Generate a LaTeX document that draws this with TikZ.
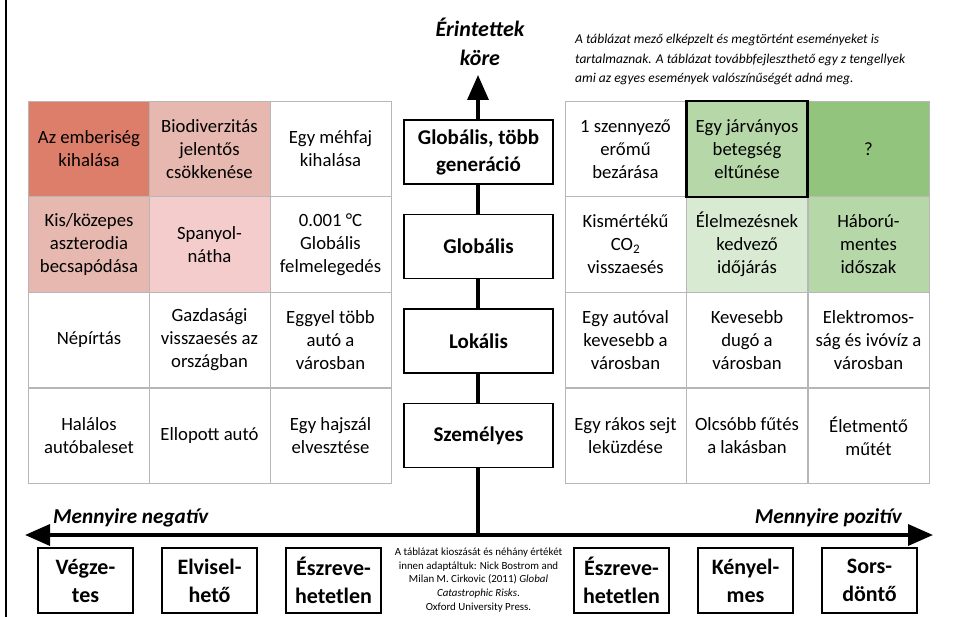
\documentclass[tikz,border=0pt]{standalone}
\usepackage{fontspec}
\setmainfont{Carlito}
\usetikzlibrary{positioning,arrows.meta}

\definecolor{redA}{HTML}{DD7E6B}
\definecolor{redB}{HTML}{E6B8AF}
\definecolor{redC}{HTML}{F4CCCC}
\definecolor{greenA}{HTML}{B6D7A8}
\definecolor{greenB}{HTML}{93C47D}
\definecolor{greenC}{HTML}{D9EAD3}
\definecolor{gridgray}{HTML}{B7B7B7}

\tikzset{
  cell/.style={draw=gridgray, line width=0.8pt, minimum width=121pt, minimum height=95.7pt,
    inner sep=0pt, align=center, font=\fontsize{18.7}{23}\selectfont},
  levelbox/.style={draw, line width=1.3pt, fill=white, minimum width=149pt, minimum height=64pt,
    inner sep=0pt, align=center, font=\fontsize{21}{27}\selectfont\bfseries},
  scalebox/.style={draw, line width=1.1pt, fill=white, minimum width=95pt, minimum height=65pt,
    inner sep=0pt, align=center, font=\fontsize{22}{28}\selectfont\bfseries},
  axislabel/.style={inner sep=0pt, font=\fontsize{21.2}{24}\selectfont\bfseries\itshape},
}

\begin{document}
\begin{tikzpicture}[x=1pt,y=-1pt]
\useasboundingbox (0,0) rectangle (955,617);
\draw[line width=2pt] (6,0) -- (6,617);

% axes
\coordinate (origin) at (478,535);
\coordinate (up) at (478,75);
\coordinate (neg) at (25,535);
\coordinate (pos) at (933,535);
\draw[line width=3.5pt, -{Triangle[length=25pt,width=21pt]}] (origin) -- (up);
\draw[line width=3.5pt, {Triangle[length=25pt,width=21pt]}-{Triangle[length=25pt,width=21pt]}] (neg) -- (pos);
\node[align=center, inner sep=0pt, font=\fontsize{22}{29}\selectfont\bfseries\itshape] (kore) at (480,42) {Érintettek\\köre};
\node[axislabel, anchor=base west] (negl) at (53,523) {Mennyire negatív};
\node[axislabel, anchor=base east] (posl) at (902,523) {Mennyire pozitív};

% levels
\foreach \y/\t/\n in {152/{Globális, több\\generáció}/glob2, 246.5/Globális/glob, 341/Lokális/lok, 435.5/Személyes/szem}
  \node[levelbox] (\n) at (478.5,\y) {\t};

% negative side
\node[cell, fill=redA] (n11) at (89,149) {Az emberiség\\kihalása};
\node[cell, fill=redB] (n12) at (209.5,149) {Biodiverzitás\\jelentős\\csökkenése};
\node[cell] (n13) at (330.5,149) {Egy méhfaj\\kihalása};
\node[cell, fill=redB] (n21) at (89,244.5) {Kis/közepes\\aszterodia\\becsapódása};
\node[cell, fill=redC] (n22) at (209.5,244.5) {Spanyol-\\nátha};
\node[cell] (n23) at (330.5,244.5) {0.001 °C\\Globális\\felmelegedés};
\node[cell] (n31) at (89,340) {Népírtás};
\node[cell] (n32) at (209.5,340) {Gazdasági\\visszaesés az\\országban};
\node[cell] (n33) at (330.5,340) {Eggyel több\\autó a\\városban};
\node[cell] (n41) at (89,436) {Halálos\\autóbaleset};
\node[cell] (n42) at (209.5,436) {Ellopott autó};
\node[cell] (n43) at (330.5,436) {Egy hajszál\\elvesztése};

% positive side
\node[cell] (p11) at (625.5,149) {1 szennyező\\erőmű\\bezárása};
\node[cell, fill=greenB] (p13) at (868.5,149) {?};
\node[cell] (p21) at (625.5,244.5) {Kismértékű\\CO\textsubscript{2}\\visszaesés};
\node[cell, fill=greenC] (p22) at (747,244.5) {Élelmezésnek\\kedvező\\időjárás};
\node[cell, fill=greenA] (p23) at (868.5,244.5) {Háború-\\mentes\\időszak};
\node[cell] (p31) at (625.5,340) {Egy autóval\\kevesebb a\\városban};
\node[cell] (p32) at (747,340) {Kevesebb\\dugó a\\városban};
\node[cell] (p33) at (868.5,340) {Elektromos-\\ság és ivóvíz a\\városban};
\node[cell] (p41) at (625.5,436) {Egy rákos sejt\\leküzdése};
\node[cell] (p42) at (747,436) {Olcsóbb fűtés\\a lakásban};
\node[cell] (p43) at (868.5,436) {Életmentő\\műtét};
\node[cell, draw=black, line width=2.5pt, fill=greenA] (p12) at (747,149) {Egy járványos\\betegség\\eltűnése};

\node[anchor=north west, align=left, inner sep=0pt, font=\fontsize{13.5}{19.5}\selectfont\itshape] (note) at (575,34)
  {A táblázat mező elképzelt és megtörtént eseményeket is\\tartalmaznak. A táblázat továbbfejleszthető egy z tengellyek\\ami az egyes események valószínűségét adná meg.};

% scale boxes
\foreach \x/\t/\n in {85.5/{Végze-\\tes}/vegz, 209.5/{Elvisel-\\hető}/elv, 333.5/{Észreve-\\hetetlen}/eszn,
    621.5/{Észreve-\\hetetlen}/eszp, 745.5/{Kényel-\\mes}/keny, 869.5/{Sors-\\döntő}/sors}
  \node[scalebox] (\n) at (\x,580.5) {\t};

\node[align=center, inner sep=0pt, font=\fontsize{10.9}{13.8}\selectfont] (forras) at (478.5,580)
  {A táblázat kioszását és néhány értékét\\innen adaptáltuk: Nick Bostrom and\\Milan M. Cirkovic (2011) {\itshape Global}\\{\itshape Catastrophic Risks}.\\Oxford University Press.};
\end{tikzpicture}
\end{document}
